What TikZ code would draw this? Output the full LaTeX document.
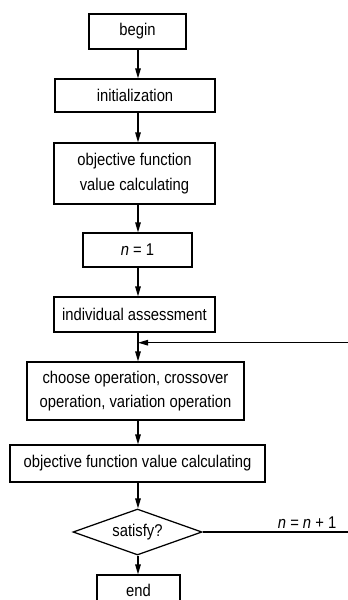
\documentclass[tikz,border=0pt]{standalone}
\usepackage{fontspec}
\setmainfont[FakeStretch=0.87]{Liberation Sans}
\usetikzlibrary{arrows.meta,shapes.geometric}
\begin{document}
\begin{tikzpicture}[x=1pt,y=-1pt,
  txt/.style={font=\fontsize{17}{24.5}\selectfont},
  box/.style={draw, line width=1.25pt, inner sep=0pt, align=center, txt},
  dia/.style={diamond, draw, line width=1.25pt, inner sep=0pt, shape aspect=2.8, txt},
  conn/.style={line width=1.25pt, -{Triangle[length=10pt,width=5.5pt]}}]
\clip (0,0) rectangle (348,600);
\coordinate (ax) at (138,0);
\node[box, minimum width=97pt, minimum height=35pt] (begin) at (137.5,31.5) {begin};
\node[box, minimum width=160pt, minimum height=33pt] (init) at (135,95.5) {initialization};
\node[box, minimum width=161pt, minimum height=61pt] (obj1) at (134.5,173.5) {objective function\\value calculating};
\node[box, minimum width=109pt, minimum height=34pt] (n1) at (137.5,250) {\textit{n} = 1};
\node[box, minimum width=161pt, minimum height=35pt] (assess) at (134.5,314.5) {individual assessment};
\node[box, minimum width=217pt, minimum height=58pt] (choose) at (135.5,391) {choose operation, crossover\\operation, variation operation};
\node[box, minimum width=255pt, minimum height=37pt] (obj2) at (137.5,463.5) {objective function value calculating};
\node[dia, minimum width=129pt, minimum height=46pt] (sat) at (137.5,532) {satisfy?};
\node[box, minimum width=83pt, minimum height=30pt] (end) at (138.5,590) {end};
\node[txt, anchor=base east, inner sep=0pt] (lbl) at (336.5,528) {\textit{n} = \textit{n} + 1};
\coordinate (rb) at (350,342.7);
\draw[conn] (begin.south -| ax) -- (init.north -| ax);
\draw[conn] (init.south -| ax) -- (obj1.north -| ax);
\draw[conn] (obj1.south -| ax) -- (n1.north -| ax);
\draw[conn] (n1.south -| ax) -- (assess.north -| ax);
\draw[conn] (assess.south -| ax) -- (choose.north -| ax);
\draw[conn] (choose.south -| ax) -- (obj2.north -| ax);
\draw[conn] (obj2.south -| ax) -- (sat.north -| ax);
\draw[conn] (sat.south -| ax) -- (end.north -| ax);
\draw[conn] (sat.east) -- (sat.east -| rb) -- (rb) -- (rb -| ax);
\end{tikzpicture}
\end{document}
